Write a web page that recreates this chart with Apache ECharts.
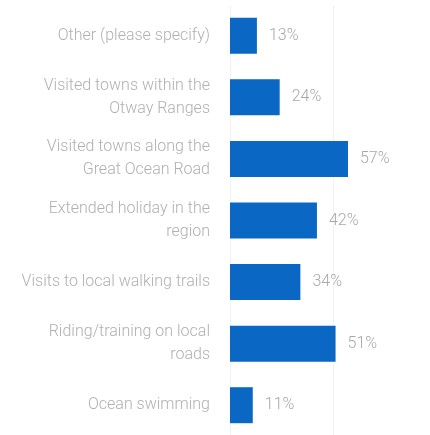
<!DOCTYPE html>
<html>
<head>
<meta charset="utf-8">
<script src="https://cdn.jsdelivr.net/npm/echarts@6/dist/echarts.min.js"></script>
<style>
  html, body { margin: 0; padding: 0; background: #ffffff; }
  #chart { width: 430px; height: 435px; }
</style>
</head>
<body>
<div id="chart"></div>
<script>
// Activities undertaken, share of respondents (%)
const categories = [
  'Other (please specify)',
  'Visited towns within the\nOtway Ranges',
  'Visited towns along the\nGreat Ocean Road',
  'Extended holiday in the\nregion',
  'Visits to local walking trails',
  'Riding/training on local\nroads',
  'Ocean swimming'
];
const values = [13, 24, 57, 42, 34, 51, 11];

const chart = echarts.init(document.getElementById('chart'));
chart.setOption({
  animation: false,
  grid: {
    left: 230, top: 5, width: 207, height: 431,
    containLabel: false,
    outerBoundsMode: 'none'
  },
  xAxis: {
    type: 'value',
    min: 0,
    max: 100,
    interval: 50,
    axisLabel: { show: false },
    axisLine: { show: false },
    axisTick: { show: false },
    splitLine: { show: true, lineStyle: { color: '#f2f2f2', width: 1 } }
  },
  yAxis: {
    type: 'category',
    inverse: true,
    data: categories,
    axisLine: { show: false },
    axisTick: { show: false },
    axisLabel: {
      margin: 20,
      color: '#b0b0b0',
      fontFamily: 'Roboto',
      fontWeight: 300,
      fontSize: 16,
      lineHeight: 23,
      align: 'right'
    }
  },
  series: [{
    type: 'bar',
    data: values,
    barWidth: 36,
    itemStyle: { color: '#0b67c4' },
    label: {
      show: true,
      position: 'right',
      distance: 12,
      formatter: '{c}%',
      color: '#a8a8a8',
      fontFamily: 'Roboto',
      fontWeight: 300,
      fontSize: 16
    }
  }]
});
</script>
</body>
</html>
